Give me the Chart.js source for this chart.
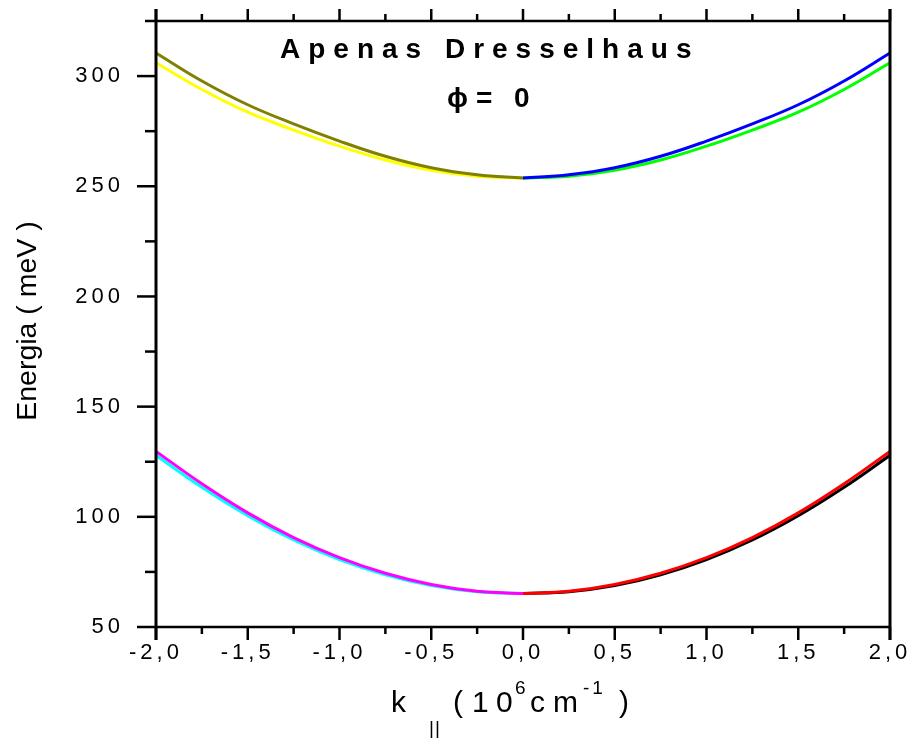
<!DOCTYPE html>
<html>
<head>
<meta charset="utf-8">
<script src="https://cdn.jsdelivr.net/npm/chart.js@4.4.1/dist/chart.umd.min.js"></script>
<style>
  html, body { margin: 0; padding: 0; background: #fff; }
  #wrap { width: 914px; height: 740px; }
</style>
</head>
<body>
<div id="wrap"><canvas id="bandChart" width="914" height="740"></canvas></div>
<script>
// k values (10^6 cm^-1) for the two halves of each band
const kLeft = [-2, -1.75, -1.5, -1.25, -1, -0.75, -0.5, -0.25, 0];
const kRight = [0, 0.25, 0.5, 0.75, 1, 1.25, 1.5, 1.75, 2];

// upper subband (meV)
const upperLeftHigh = [310.5, 297.8, 287, 278.3, 270.5, 263.6, 258.4, 255.2, 253.7];   // olive
const upperLeftLow = [306, 293.9, 283.6, 275.5, 268.2, 261.9, 257.3, 254.6, 253.7];    // yellow
const upperRightHigh = [253.7, 255.2, 258.4, 263.6, 270.5, 278.3, 287, 297.8, 310.5];  // blue
const upperRightLow = [253.7, 254.6, 257.3, 261.9, 268.2, 275.5, 283.6, 293.9, 306];   // green

// lower subband (meV)
const lowerLeftHigh = [129.7, 115, 101.8, 90.6, 81.5, 74.4, 69.3, 66.2, 65.2];   // magenta
const lowerLeftLow = [127.9, 113.4, 100.5, 89.5, 80.6, 73.7, 68.8, 66, 65.2];    // cyan
const lowerRightHigh = [65.2, 66.2, 69.3, 74.4, 81.5, 90.6, 101.8, 115, 129.7];  // red
const lowerRightLow = [65.2, 66, 68.8, 73.7, 80.6, 89.5, 100.5, 113.4, 127.9];   // black

const xTicks = [-2, -1.5, -1, -0.5, 0, 0.5, 1, 1.5, 2];
const yTicks = [50, 100, 150, 200, 250, 300];

const FONT = '"Liberation Sans", Arial, sans-serif';

function pts(xs, ys) {
    return xs.map((x, i) => ({ x: x, y: ys[i] }));
}

function curve(xs, ys, color) {
    return {
        data: pts(xs, ys),
        borderColor: color,
        borderWidth: 3,
        pointRadius: 0,
        fill: false,
        tension: 0.4
    };
}

function line(ctx, x1, y1, x2, y2) {
    ctx.beginPath();
    ctx.moveTo(x1, y1);
    ctx.lineTo(x2, y2);
    ctx.stroke();
}

// tick label letter spacing, like the original
const spacing = {
    id: 'spacing',
    beforeDraw(chart) {
        chart.ctx.letterSpacing = '4px';
    }
};

// axis frame, ticks and free text
const frame = {
    id: 'frame',
    afterDraw(chart) {
        const ctx = chart.ctx;
        const a = chart.chartArea;
        const x = chart.scales.x;
        const y = chart.scales.y;
        ctx.save();
        ctx.letterSpacing = '0px';
        ctx.strokeStyle = '#000';
        ctx.lineCap = 'butt';

        // top / bottom
        ctx.lineWidth = 2.5;
        line(ctx, a.left, a.top, a.right, a.top);
        line(ctx, a.left, a.bottom, a.right, a.bottom);

        // x ticks, bottom and top
        for (let v = -2; v <= 2.001; v += 0.25) {
            const px = x.getPixelForValue(v);
            const major = Math.abs(v * 2 - Math.round(v * 2)) < 1e-6;
            line(ctx, px, a.bottom, px, a.bottom + (major ? 13 : 7));
            line(ctx, px, a.top, px, a.top - (major ? 12 : 7));
        }
        // y ticks, left
        for (let v = 50; v <= 325.001; v += 25) {
            const py = y.getPixelForValue(v);
            const major = v % 50 === 0;
            line(ctx, a.left - (major ? 19 : 11), py, a.left, py);
        }

        // left / right
        ctx.lineWidth = 3;
        line(ctx, a.left, a.top - 12, a.left, a.bottom + 13);
        line(ctx, a.right, a.top - 12, a.right, a.bottom + 13);

        ctx.fillStyle = '#000';
        ctx.textAlign = 'left';
        ctx.textBaseline = 'alphabetic';

        // title
        ctx.font = 'bold 28px ' + FONT;
        ctx.letterSpacing = '8px';
        ctx.fillText('Apenas Dresselhaus', 280, 58);
        ctx.letterSpacing = '0px';
        ctx.fillText('\u03D5', 447, 107);
        ctx.fillText('=', 476, 107);
        ctx.fillText('0', 514, 107);

        // x title
        ctx.font = '30px ' + FONT;
        ctx.fillText('k', 391, 712);
        ctx.fillText('(', 453, 712);
        ctx.fillText('1', 472, 712);
        ctx.fillText('0', 496, 712);
        ctx.fillText('c', 530, 712);
        ctx.fillText('m', 553, 712);
        ctx.fillText(')', 619, 712);
        ctx.font = '19px ' + FONT;
        ctx.letterSpacing = '1px';
        ctx.fillText('||', 429, 734);
        ctx.letterSpacing = '3px';
        ctx.fillText('6', 515, 694);
        ctx.fillText('-1', 583, 694);

        // y title
        ctx.letterSpacing = '0px';
        ctx.translate(28, 321);
        ctx.rotate(-Math.PI / 2);
        ctx.textAlign = 'center';
        ctx.textBaseline = 'middle';
        ctx.font = '28.5px ' + FONT;
        ctx.fillText('Energia ( meV )', 0, 0);
        ctx.restore();
    }
};

function initChart() {
    const ctx = document.getElementById('bandChart').getContext('2d');
    new Chart(ctx, {
        type: 'line',
        data: {
            datasets: [
                curve(kLeft, upperLeftHigh, '#808000'),
                curve(kRight, upperRightHigh, '#0000ff'),
                curve(kLeft, lowerLeftHigh, '#ff00ff'),
                curve(kRight, lowerRightHigh, '#ff0000'),
                curve(kLeft, upperLeftLow, '#ffff00'),
                curve(kRight, upperRightLow, '#00ff00'),
                curve(kLeft, lowerLeftLow, '#00ffff'),
                curve(kRight, lowerRightLow, '#000000')
            ]
        },
        options: {
            responsive: false,
            animation: false,
            layout: { padding: { left: 0, top: 21, right: 24, bottom: 0 } },
            scales: {
                x: {
                    type: 'linear',
                    min: -2,
                    max: 2,
                    afterFit: s => {
                        s.height = 113;
                        s.paddingLeft = 0;
                        s.paddingRight = 0;
                    },
                    afterBuildTicks: s => { s.ticks = xTicks.map(v => ({ value: v })); },
                    grid: { display: false, drawTicks: false },
                    border: { display: false },
                    ticks: {
                        autoSkip: false,
                        maxRotation: 0,
                        padding: 13,
                        color: '#000',
                        font: { family: FONT, size: 22 },
                        callback: v => (Math.abs(v) < 1e-9 ? 0 : v).toFixed(1).replace('.', ',')
                    }
                },
                y: {
                    type: 'linear',
                    min: 50,
                    max: 325,
                    afterFit: s => {
                        s.width = 156;
                        s.paddingTop = 0;
                        s.paddingBottom = 0;
                    },
                    afterBuildTicks: s => { s.ticks = yTicks.map(v => ({ value: v })); },
                    grid: { display: false, drawTicks: false },
                    border: { display: false },
                    ticks: {
                        padding: 32,
                        color: '#000',
                        font: { family: FONT, size: 22 },
                        callback: v => String(v)
                    }
                }
            },
            plugins: {
                legend: { display: false },
                tooltip: { enabled: false }
            }
        },
        plugins: [spacing, frame]
    });
}

window.onload = initChart;
</script>
</body>
</html>
